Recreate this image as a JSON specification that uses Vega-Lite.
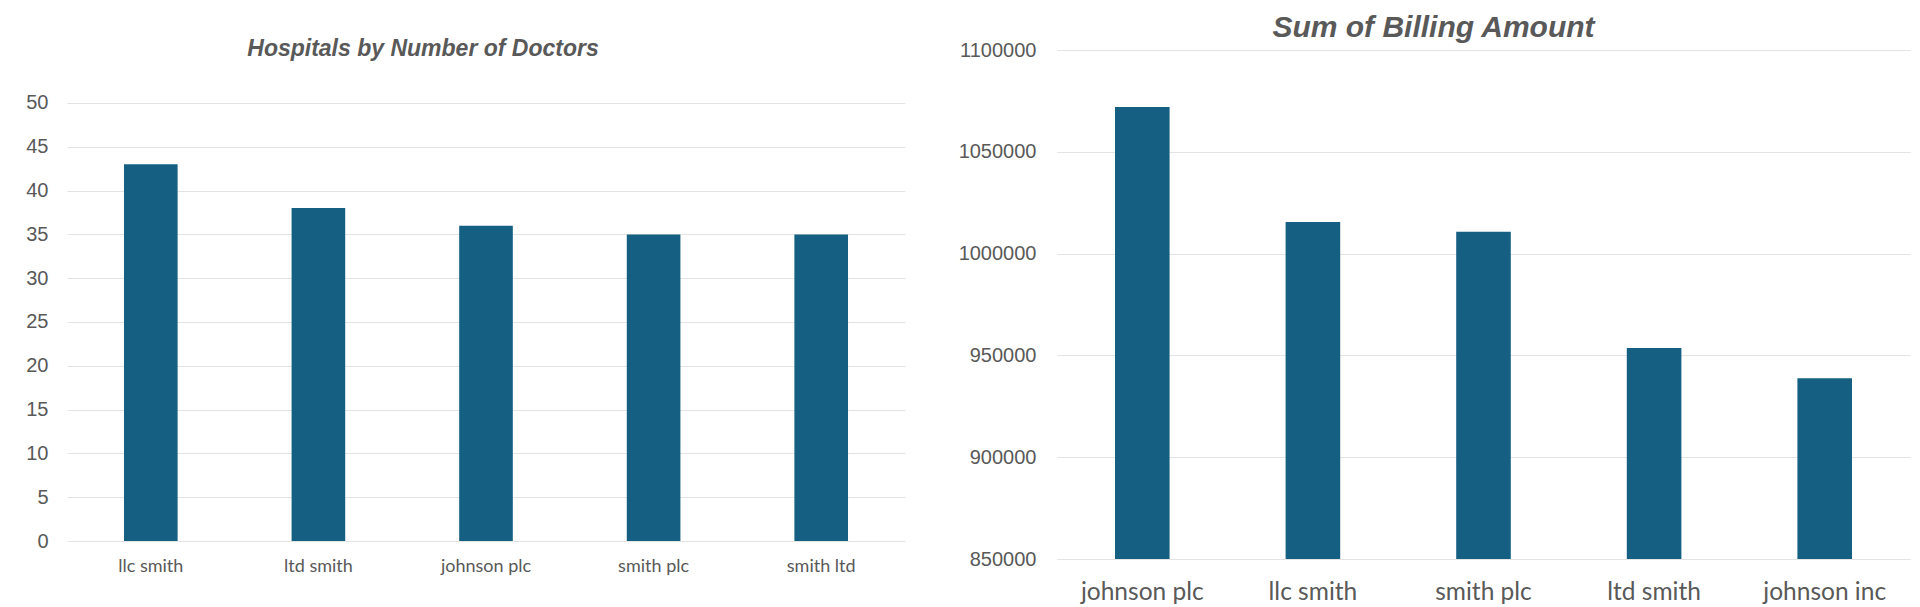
{
  "$schema": "https://vega.github.io/schema/vega-lite/v6.json",
  "padding": {"left": 25, "top": 13, "right": 5, "bottom": 5},
  "background": "white",
  "bounds": "flush",
  "spacing": 152,
  "config": {
    "view": {"stroke": null},
    "axis": {
      "domain": false,
      "ticks": false,
      "labelColor": "#595959",
      "gridColor": "#e3e3e3",
      "gridWidth": 1.2,
      "title": null
    },
    "title": {"color": "#595959", "fontStyle": "italic", "fontWeight": "bold", "font": "Liberation Sans", "frame": "group", "baseline": "middle"}
  },
  "hconcat": [
    {
      "width": 838,
      "height": 491,
      "title": {"text": "Hospitals by Number of  Doctors", "fontSize": 23, "offset": -10.5, "dx": -63},
      "data": {
        "values": [
          {"hospital": "llc smith", "doctors": 43},
          {"hospital": "ltd smith", "doctors": 38},
          {"hospital": "johnson plc", "doctors": 36},
          {"hospital": "smith plc", "doctors": 35},
          {"hospital": "smith ltd", "doctors": 35}
        ]
      },
      "mark": {"type": "bar", "color": "#156082"},
      "encoding": {
        "x": {
          "field": "hospital",
          "type": "nominal",
          "sort": null,
          "scale": {"paddingInner": 0.68, "paddingOuter": 0.34},
          "axis": {"labelAngle": 0, "labelFont": "Lato", "labelFontSize": 18, "labelPadding": 16, "grid": false}
        },
        "y": {
          "field": "doctors",
          "type": "quantitative",
          "scale": {"domain": [0, 56.05], "nice": false},
          "axis": {"values": [0, 5, 10, 15, 20, 25, 30, 35, 40, 45, 50], "labelFont": "Liberation Sans", "labelFontSize": 20, "labelPadding": 19, "grid": true}
        }
      }
    },
    {
      "width": 853,
      "height": 509,
      "title": {"text": "Sum of Billing Amount", "fontSize": 30, "offset": -3, "dx": -50},
      "data": {
        "values": [
          {"hospital": "johnson plc", "billing": 1072000},
          {"hospital": "llc smith", "billing": 1015500},
          {"hospital": "smith plc", "billing": 1010700},
          {"hospital": "ltd smith", "billing": 953600},
          {"hospital": "johnson inc", "billing": 938800}
        ]
      },
      "mark": {"type": "bar", "color": "#156082", "clip": true},
      "encoding": {
        "x": {
          "field": "hospital",
          "type": "nominal",
          "sort": null,
          "scale": {"paddingInner": 0.68, "paddingOuter": 0.34},
          "axis": {"labelAngle": 0, "labelFont": "Lato", "labelFontSize": 24.5, "labelPadding": 21, "grid": false}
        },
        "y": {
          "field": "billing",
          "type": "quantitative",
          "scale": {"domain": [850000, 1100000], "nice": false, "zero": false},
          "axis": {"values": [850000, 900000, 950000, 1000000, 1050000, 1100000], "format": "d", "labelFont": "Liberation Sans", "labelFontSize": 20, "labelPadding": 21, "grid": true}
        }
      }
    }
  ]
}
